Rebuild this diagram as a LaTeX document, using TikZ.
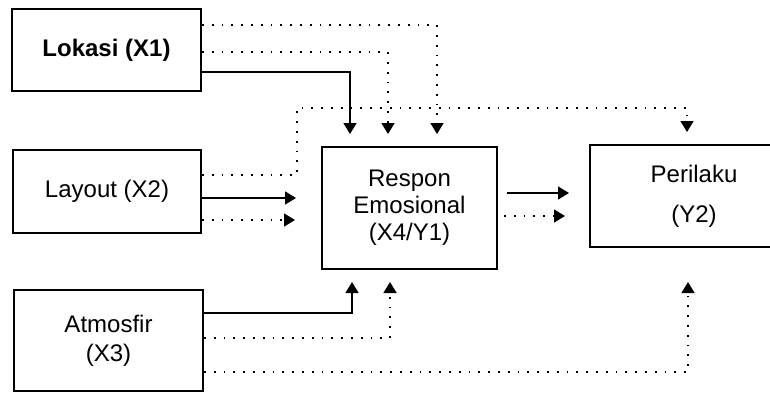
\documentclass[tikz,border=0pt]{standalone}
\usepackage{fontspec}
\setmainfont{Liberation Sans}
\usetikzlibrary{arrows.meta, positioning}
\tikzstyle{vbox}=[rectangle, draw=black, line width=1pt, fill=white,
  font=\fontsize{12}{13}\selectfont, text centered, align=center,
  inner sep=0pt]
\tikzstyle{solidarr}=[-{Triangle[length=5.5pt,width=6.5pt]}, line width=0.8pt]
\tikzstyle{dotarr}=[-{Triangle[length=5.5pt,width=6.5pt]}, line width=0.8pt,
  dash pattern=on 0.9pt off 4pt]

\begin{document}
\begin{tikzpicture}[x=0.5pt, y=-0.5pt]
  \useasboundingbox (0,0) rectangle (770,392);
  \clip (0,0) rectangle (770,392);
        % variables
        \node[vbox, minimum width=94.5pt, minimum height=41pt,
          font=\fontsize{12}{13}\selectfont\bfseries]
          (lok) at (106.5,50) {Lokasi (X1)};
        \node[vbox, minimum width=94pt, minimum height=41.5pt]
          (lay) at (107,191.5) {Layout (X2)};
        \node[vbox, minimum width=94.5pt, minimum height=50.5pt]
          (atm) at (108.5,340.5) {Atmosfir\\[1.5pt](X3)};
        \node[vbox, minimum width=87.5pt, minimum height=61pt]
          (res) at (409.5,208) {Respon\\[0.5pt]Emosional\\[0.5pt](X4/Y1)};
        \node[vbox, minimum width=104pt, minimum height=51pt]
          (per) at (694,196) {Perilaku\\[7pt](Y2)};
        % from Lokasi
        \draw[solidarr] ([yshift=-11pt]lok.east) -| ([xshift=-29.75pt,yshift=6pt]res.north);
        \draw[dotarr] ([yshift=-1pt]lok.east) -| ([xshift=-10.75pt,yshift=6pt]res.north);
        \draw[dotarr] ([yshift=12.5pt]lok.east) -| ([xshift=13.75pt,yshift=6pt]res.north);
        % from Layout
        \draw[dotarr] ([yshift=8.25pt]lay.east) -- ++(95,0) -- ++(0,-67)
          -| ([xshift=-3.5pt,yshift=6pt]per.north);
        \draw[solidarr] ([yshift=-3.25pt]lay.east) -- ([xshift=-12.5pt,yshift=5pt]res.west);
        \draw[dotarr] ([yshift=-14.25pt]lay.east) -- ([xshift=-13pt,yshift=-6pt]res.west);
        % Respon to Perilaku
        \draw[solidarr] ([xshift=4.5pt,yshift=7.5pt]res.east) -- ([xshift=-10pt,yshift=1.5pt]per.west);
        \draw[dotarr] ([xshift=3pt,yshift=-4pt]res.east) -- ([xshift=-12pt,yshift=-10pt]per.west);
        % from Atmosfir
        \draw[solidarr] ([yshift=13.75pt]atm.east) -| ([xshift=-28.75pt,yshift=-6pt]res.south);
        \draw[dotarr] ([yshift=1.25pt]atm.east) -| ([xshift=-9.75pt,yshift=-6pt]res.south);
        \draw[dotarr] ([yshift=-15.75pt]atm.east) -| ([xshift=-3pt,yshift=-17pt]per.south);
      \end{tikzpicture}
\end{document}
